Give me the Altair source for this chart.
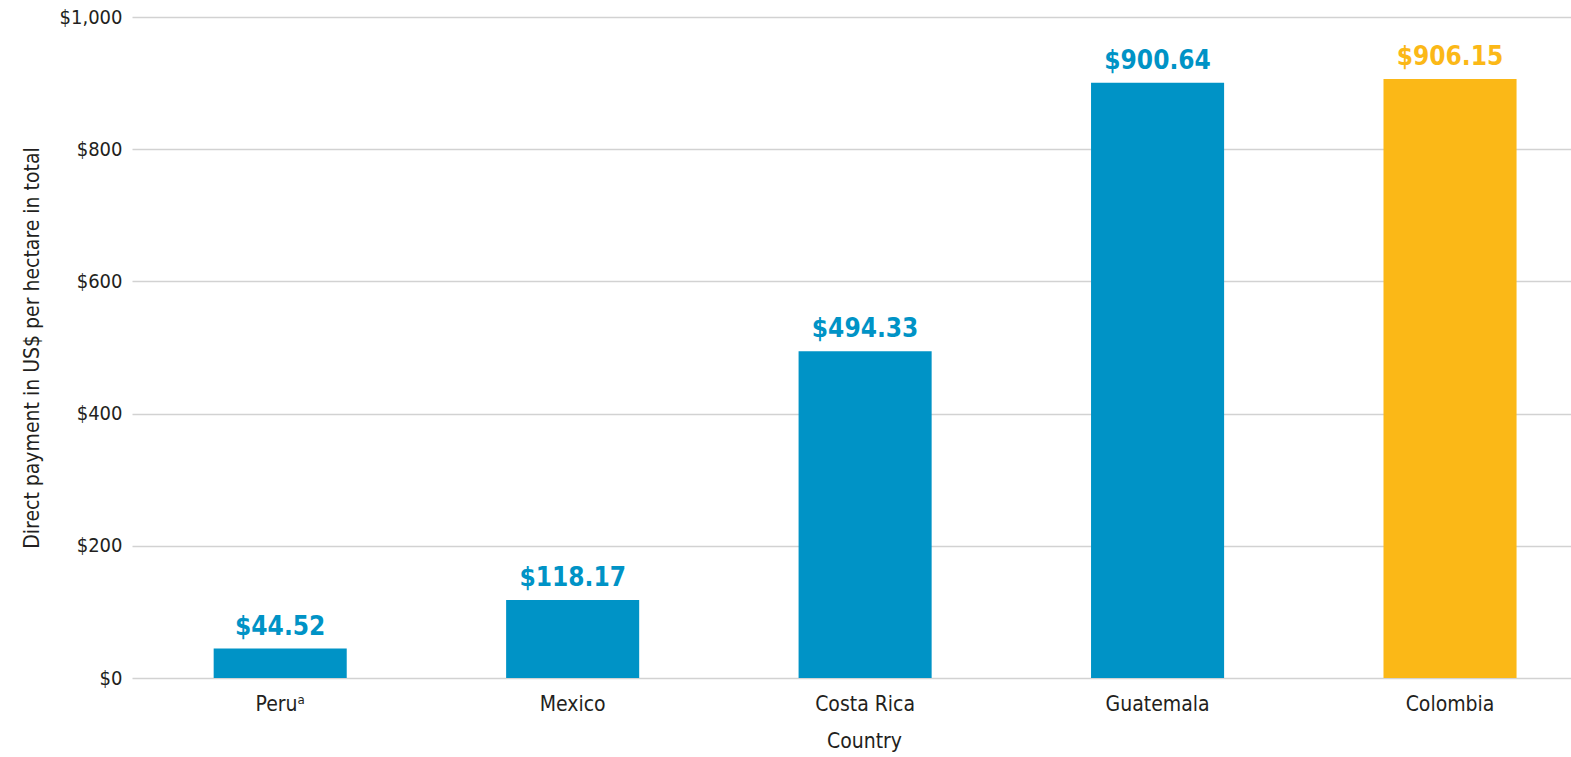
import altair as alt
import pandas as pd

countries = ["Peruᵃ", "Mexico", "Costa Rica", "Guatemala", "Colombia"]
values = [44.52, 118.17, 494.33, 900.64, 906.15]
colors = ["#0093C6", "#0093C6", "#0093C6", "#0093C6", "#FBB817"]
y_ticks = [0, 200, 400, 600, 800, 1000]

df = pd.DataFrame({"country": countries, "value": values, "color": colors})

FONT = "Liberation Sans Narrow, DejaVu Sans Condensed, sans-serif"

x = alt.X(
    "country:N",
    sort=countries,
    scale=alt.Scale(paddingInner=0.545, paddingOuter=0.2327, align=0.6),
    axis=alt.Axis(
        title="Country",
        labelAngle=0,
        domain=False,
        ticks=False,
        grid=False,
        labelPadding=15,
        labelFontSize=21,
        labelFont=FONT,
        labelColor="#231f20",
        titleFont=FONT,
        titleFontSize=21,
        titleFontWeight="normal",
        titleColor="#231f20",
        titleX=732,
        titleY=63,
        titleBaseline="middle",
    ),
)
y = alt.Y(
    "value:Q",
    scale=alt.Scale(domain=[0, 1000], nice=False),
    axis=alt.Axis(
        title="Direct payment in US$ per hectare in total",
        values=y_ticks,
        format="$,.0f",
        domain=False,
        ticks=False,
        grid=True,
        gridColor="#d2d2d2",
        gridWidth=1.5,
        labelPadding=10,
        labelFontSize=20,
        labelFont=FONT,
        labelColor="#231f20",
        titleFont=FONT,
        titleFontSize=21,
        titleFontWeight="normal",
        titleColor="#231f20",
        titleX=-90,
        titleY=330.5,
    ),
)

bars = alt.Chart(df).mark_bar().encode(
    x=x, y=y, color=alt.Color("color:N", scale=None)
)
labels = alt.Chart(df).mark_text(
    dy=-14, baseline="alphabetic", fontSize=26, fontWeight="bold", font=FONT
).encode(
    x=alt.X("country:N", sort=countries),
    y="value:Q",
    text=alt.Text("value:Q", format="$.2f"),
    color=alt.Color("color:N", scale=None),
)

chart = (
    alt.layer(bars, labels)
    .properties(
        width=1439,
        height=661,
        autosize=alt.AutoSizeParams(type="none"),
        padding={"left": 132, "top": 17, "right": 0, "bottom": 79},
    )
    .configure_view(stroke=None)
)

chart.save("out.html", embed_options={"renderer": "svg", "actions": False})
